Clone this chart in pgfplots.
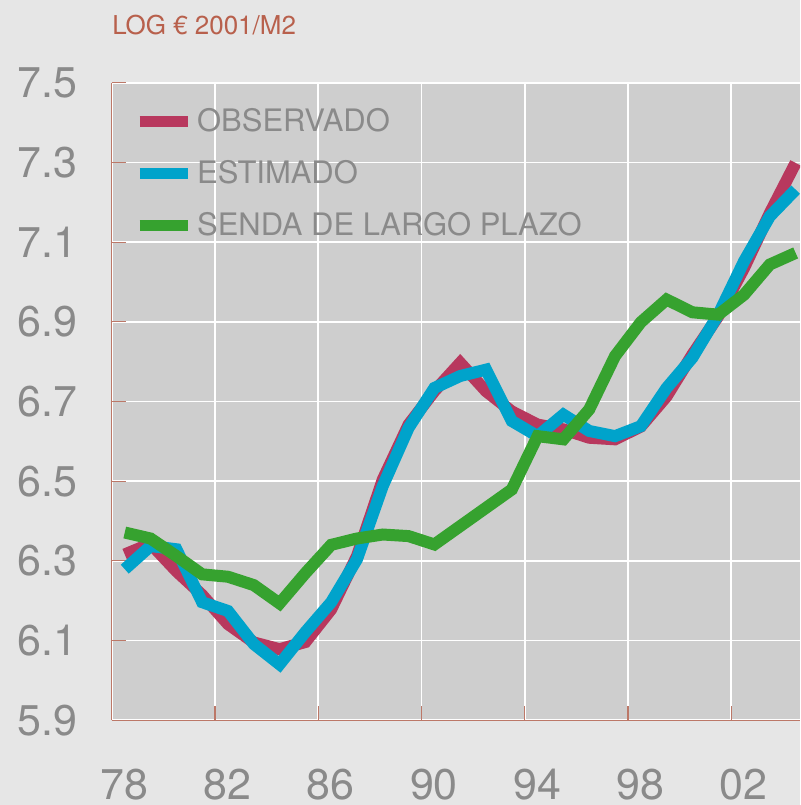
\documentclass[border=0pt]{standalone}
\usepackage{pgfplots}
\pgfplotsset{compat=1.18}
\usepackage{pgfplotstable}
\usepackage{fontspec}
\setmainfont{TeX Gyre Heros}
\definecolor{bgout}{HTML}{E6E6E6}
\definecolor{bgplot}{HTML}{CECECE}
\definecolor{obs}{HTML}{B8385E}
\definecolor{est}{HTML}{00A3CB}
\definecolor{lp}{HTML}{36A22F}
\definecolor{txt}{HTML}{8A8A8A}
\definecolor{rust}{HTML}{B8604C}
\definecolor{axc}{HTML}{BC7868}

\pgfplotstableread{
x     obs    est    lp
78.5  6.316  6.279  6.371
79.5  6.343  6.337  6.356
80.5  6.274  6.329  6.312
81.5  6.214  6.196  6.266
82.5  6.141  6.174  6.260
83.5  6.095  6.091  6.239
84.5  6.078  6.040  6.193
85.5  6.096  6.121  6.269
86.5  6.178  6.196  6.340
87.5  6.312  6.304  6.356
88.5  6.504  6.488  6.366
89.5  6.642  6.634  6.362
90.5  6.726  6.734  6.341
91.5  6.797  6.764  6.387
92.5  6.726  6.780  6.433
93.5  6.675  6.651  6.479
94.5  6.642  6.613  6.613
95.5  6.630  6.667  6.605
96.5  6.609  6.626  6.680
97.5  6.605  6.613  6.814
98.5  6.637  6.638  6.899
99.5  6.713  6.734  6.956
100.5 6.818  6.810  6.924
101.5 6.914  6.918  6.918
102.5 7.035  7.052  6.968
103.5 7.173  7.165  7.044
104.5 7.299  7.232  7.073
}\data

\begin{document}
\begin{tikzpicture}
\fill[bgout] (-56pt,-42.5pt) rectangle (344.5pt,360.5pt);
\path[use as bounding box] (-56pt,-42.5pt) rectangle (344.5pt,360.5pt);
\begin{axis}[
  name=ax,
  at={(0,0)}, anchor=south west,
  scale only axis, width=344.5pt, height=319pt,
  xmin=78, xmax=104.67, ymin=5.9, ymax=7.5,
  axis background/.style={fill=bgplot},
  axis x line*=bottom, axis y line*=left,
  axis line style={draw=axc, line width=0.6pt, -},
  xtick={78,82,86,90,94,98,102},
  xticklabels={78,82,86,90,94,98,02},
  ytick={5.9,6.1,6.3,6.5,6.7,6.9,7.1,7.3,7.5},
  yticklabels={5.9,6.1,6.3,6.5,6.7,6.9,7.1,7.3,7.5},
  tick style={draw=axc, line width=0.6pt},
  major tick length=7pt, tick align=inside,
  grid=major, major grid style={draw=white, line width=0.8pt},
  tick label style={font=\fontsize{21.5}{21.5}\selectfont, text=txt},
  xticklabel style={anchor=north, inner sep=0pt, yshift=-24.5pt, xshift=6.25pt},
  yticklabel style={anchor=west, inner sep=0pt, xshift=-47.5pt},
  legend style={at={(0,1)}, anchor=north west, xshift=11pt, yshift=-10.5pt,
    draw=none, fill=none, font=\fontsize{15.5}{15.5}\selectfont, text=txt,
    row sep=9pt, column sep=0pt, inner sep=0pt},
  legend cell align=left,
  legend image code/.code={\draw[#1, line width=5.5pt] (0pt,0pt) -- (24pt,0pt);},
  every axis plot/.append style={line width=6pt, line join=miter},
]
\addplot[obs] table[x=x, y=obs] {\data};
\addlegendentry{OBSERVADO}
\addplot[est] table[x=x, y=est] {\data};
\addlegendentry{ESTIMADO}
\addplot[lp] table[x=x, y=lp] {\data};
\addlegendentry{SENDA DE LARGO PLAZO}
\end{axis}
\node[anchor=base west, inner sep=0pt, font=\fontsize{13}{13}\selectfont, text=rust]
  at ([yshift=24pt]ax.north west) {LOG € 2001/M2};
\end{tikzpicture}
\end{document}
